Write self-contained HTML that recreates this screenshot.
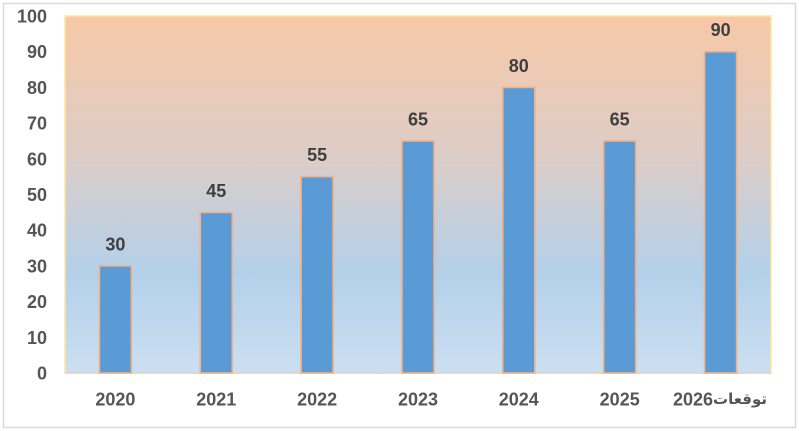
<!DOCTYPE html>
<html><head><meta charset="utf-8"><style>
html,body{margin:0;padding:0;background:#fff;}
svg{display:block;}
text{font-family:"Liberation Sans","DejaVu Sans",sans-serif;font-weight:bold;font-size:18px;}
</style></head><body>
<svg width="799" height="431" viewBox="0 0 799 431" xmlns="http://www.w3.org/2000/svg">
<defs>
<linearGradient id="bg" x1="0" y1="0" x2="0" y2="1">
<stop offset="0" stop-color="#f8c8a6"/>
<stop offset="0.4" stop-color="#dccdc8"/>
<stop offset="0.72" stop-color="#b3d0ea"/>
<stop offset="1" stop-color="#cbdff1"/>
</linearGradient>
</defs>
<rect x="3.5" y="3.5" width="792" height="424" fill="#fff" stroke="#d9d9d9" stroke-width="1.5"/>
<rect x="65" y="16" width="706" height="357" fill="url(#bg)" stroke="#ffe699" stroke-width="1.5"/>
<line x1="65" y1="373" x2="771" y2="373" stroke="#d4d4d4" stroke-width="1.5"/>
<g fill="#5b9bd5" stroke="#f4b183" stroke-width="1.6">
<rect x="99.4" y="265.9" width="32" height="107.1"/>
<rect x="200.3" y="212.4" width="32" height="160.6"/>
<rect x="301.1" y="176.7" width="32" height="196.3"/>
<rect x="402" y="141" width="32" height="232"/>
<rect x="502.8" y="87.4" width="32" height="285.6"/>
<rect x="603.7" y="141" width="32" height="232"/>
<rect x="704.6" y="51.7" width="32" height="321.3"/>
</g>
<g fill="#555555" text-anchor="end">
<text x="47" y="379.5">0</text>
<text x="47" y="343.8">10</text>
<text x="47" y="308.1">20</text>
<text x="47" y="272.4">30</text>
<text x="47" y="236.7">40</text>
<text x="47" y="201">50</text>
<text x="47" y="165.3">60</text>
<text x="47" y="129.6">70</text>
<text x="47" y="93.9">80</text>
<text x="47" y="58.2">90</text>
<text x="47" y="22.5">100</text>
</g>
<g fill="#3f3f3f" text-anchor="middle">
<text x="115.4" y="250.4">30</text>
<text x="216.3" y="196.9">45</text>
<text x="317.1" y="161.2">55</text>
<text x="418" y="125.5">65</text>
<text x="518.8" y="71.9">80</text>
<text x="619.7" y="125.5">65</text>
<text x="720.6" y="36.2">90</text>
</g>
<g fill="#555555" text-anchor="middle">
<text x="115.4" y="405.5">2020</text>
<text x="216.3" y="405.5">2021</text>
<text x="317.1" y="405.5">2022</text>
<text x="418" y="405.5">2023</text>
<text x="518.8" y="405.5">2024</text>
<text x="619.7" y="405.5">2025</text>
</g>
<text x="673" y="405.5" fill="#555555">2026</text>
<text x="713" y="404" fill="#555555" text-anchor="start" style="font-family:'DejaVu Sans',sans-serif;font-size:15px;">توقعات</text>
</svg>
</body></html>
